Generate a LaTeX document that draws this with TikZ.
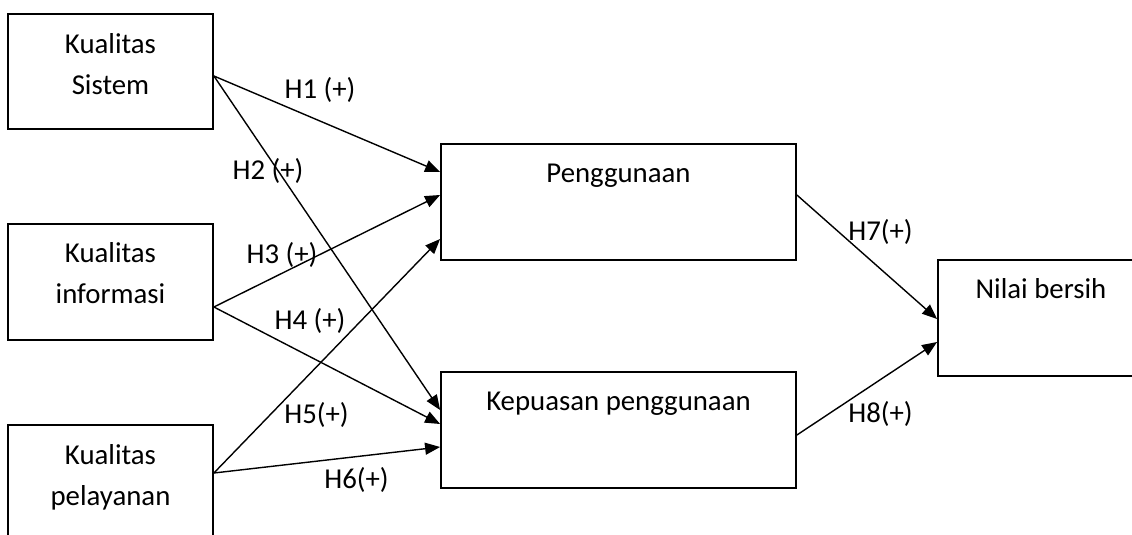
\documentclass[tikz,border=0pt]{standalone}
\usepackage{fontspec}
\setmainfont{Carlito}
\usetikzlibrary{arrows.meta}
\begin{document}
\begin{tikzpicture}[x=1pt,y=-1pt,
  box/.style={draw,line width=1.8pt,inner sep=0pt,minimum width=205pt,minimum height=116pt},
  wbox/.style={box,minimum width=355pt},
  txt/.style={inner sep=0pt,anchor=base,align=center,font=\fontsize{28.8}{41}\selectfont},
  hyp/.style={draw,line width=1.4pt,-{Triangle[length=15pt,width=12pt]}}]
\useasboundingbox (0,0) rectangle (1132,535);
\clip (0,0) rectangle (1132,535);
% boxes
\node[box,minimum height=115pt] (ks) at (110.5,71.5) {};
\node[box] (ki) at (110.5,282) {};
\node[box] (kp) at (110.5,483) {};
\node[wbox] (pg) at (618.5,202) {};
\node[wbox] (kep) at (618.5,430) {};
\node[box,minimum width=206pt] (nb) at (1041,318) {};
% box texts (base = baseline of the last line)
\node[txt] (ksT) at (110.5,94) {Kualitas\\Sistem};
\node[txt] (kiT) at (110.5,303) {Kualitas\\informasi};
\node[txt] (kpT) at (110.5,505) {Kualitas\\pelayanan};
\node[txt] (pgT) at (618.5,182) {Penggunaan};
\node[txt] (kepT) at (618.5,410) {Kepuasan penggunaan};
\node[txt] (nbT) at (1041,298) {Nilai bersih};
% connectors
\draw[hyp] ([yshift=-4.5pt]ks.east) -- ([yshift=30pt]pg.west);
\draw[hyp] ([yshift=-4.5pt]ks.east) -- ([yshift=20pt]kep.west);
\draw[hyp] ([yshift=-25pt]ki.east) -- ([yshift=7pt]pg.west);
\draw[hyp] ([yshift=-25pt]ki.east) -- ([yshift=6pt]kep.west);
\draw[hyp] ([yshift=10pt]kp.east) -- ([yshift=-37pt]pg.west);
\draw[hyp] ([yshift=10pt]kp.east) -- ([yshift=-17pt]kep.west);
\draw[hyp] ([yshift=7pt]pg.east) -- ([yshift=-1pt]nb.west);
\draw[hyp] ([yshift=-5pt]kep.east) -- ([yshift=-24pt]nb.west);
% labels
\node[txt] (h1) at (320,98) {H1 (+)};
\node[txt] (h2) at (268,179) {H2 (+)};
\node[txt] (h3) at (282,263) {H3 (+)};
\node[txt] (h4) at (310,329) {H4 (+)};
\node[txt] (h5) at (316.5,423) {H5(+)};
\node[txt] (h6) at (356.5,488) {H6(+)};
\node[txt] (h7) at (880.5,240) {H7(+)};
\node[txt] (h8) at (880.5,422) {H8(+)};
\end{tikzpicture}
\end{document}
